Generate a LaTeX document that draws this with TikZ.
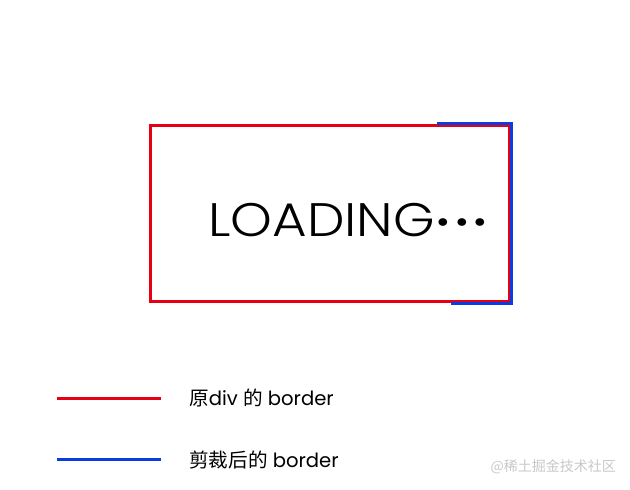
\documentclass[tikz,border=0pt]{standalone}
\usepackage{fontspec}
\setmainfont{Poppins}
\newfontfamily\cjk{Noto Sans CJK SC}
\newfontfamily\titlefont[FakeStretch=1.13]{Poppins Light}
\newcommand\loaddot{\raisebox{3pt}{\fontsize{33}{33}\selectfont •}}
\definecolor{divred}{RGB}{230,0,18}
\definecolor{clipblue}{RGB}{10,60,224}
\definecolor{markgray}{RGB}{200,200,200}
\tikzset{
  oldborder/.style={draw=divred, line width=3pt},
  newborder/.style={draw=clipblue, line width=3pt},
  legendtext/.style={anchor=west, font=\fontsize{19.6}{19.6}\selectfont, inner sep=0pt},
}

\begin{document}
\begin{tikzpicture}[x=1pt, y=-1pt]
      \useasboundingbox (0,0) rectangle (630,490);
      % the div and its text
      \node[oldborder, minimum width=359pt, minimum height=176pt, inner sep=0pt] (box) at (329.5,213) {};
      \node[anchor=west, font=\titlefont\fontsize{47}{47}\selectfont, inner sep=0pt] (loading) at (208,220) {LOADING\kern2pt\loaddot\kern5pt\loaddot\kern5pt\loaddot};
      % clipped part of the border
      \coordinate (cliptop) at (437,123);
      \coordinate (clipcorner) at (511,123);
      \coordinate (clipbottom) at (511,303);
      \coordinate (clipend) at (451,303);
      \draw[newborder] (cliptop) -- (clipcorner) -- (clipbottom) -- (clipend);
      % legend
      \coordinate (redstart) at (57,398);
      \coordinate (redend) at (161,398);
      \coordinate (bluestart) at (57,459);
      \coordinate (blueend) at (161,459);
      \draw[oldborder] (redstart) -- (redend);
      \draw[newborder] (bluestart) -- (blueend);
      \node[legendtext] (redlabel) at (189,398) {{\cjk 原}div {\cjk 的} border};
      \node[legendtext] (bluelabel) at (189,460) {{\cjk 剪裁后的} border};
      \node[anchor=east, text=markgray, font=\fontsize{14}{14}\selectfont, inner sep=0pt] (mark) at (616,467) {{\cjk @稀土掘金技术社区}};
    \end{tikzpicture}
\end{document}
